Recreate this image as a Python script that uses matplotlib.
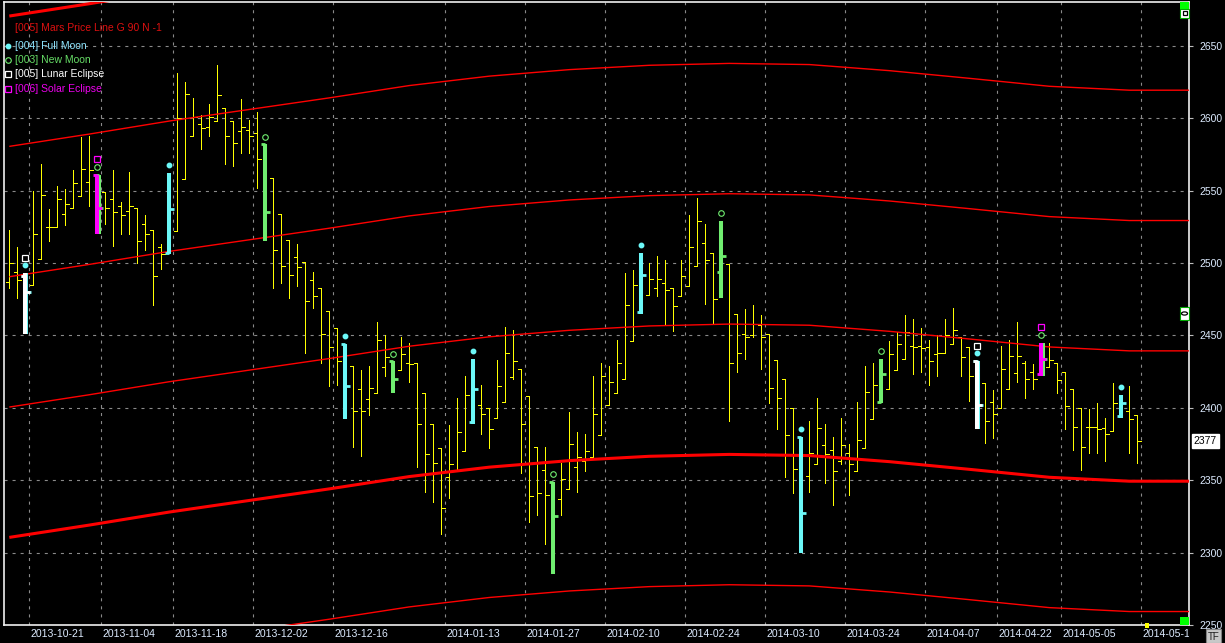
import matplotlib
matplotlib.use("Agg")
import matplotlib.pyplot as plt
from matplotlib.collections import LineCollection
from matplotlib.patches import Rectangle, Circle
from matplotlib.transforms import Bbox, TransformedBbox, blended_transform_factory
import numpy as np

# ---------------- data (daily bars, index = trading day) ----------------
opens = [2487, 2494, 2491, 2485, 2503, 2525, 2525, 2534, 2538, 2546,
         2556, 2561, 2549, 2544, 2539, 2536, 2538, 2527, 2523, 2511,
         2507, 2522, 2558, 2588, 2596, 2594, 2598, 2607, 2598, 2591,
         2592, 2590, 2582, 2559, 2534, 2516, 2504, 2501, 2488, 2483,
         2467, 2455, 2444, 2429, 2413, 2406, 2410, 2428, 2432, 2426,
         2431, 2431, 2410, 2389, 2372, 2352, 2356, 2370, 2390, 2402,
         2400, 2393, 2404, 2421, 2427, 2408, 2373, 2357, 2349, 2337,
         2344, 2359, 2363, 2366, 2381, 2402, 2410, 2420, 2446, 2466,
         2478, 2483, 2486, 2483, 2477, 2484, 2498, 2514, 2507, 2494,
         2499, 2465, 2451, 2450, 2457, 2451, 2433, 2420, 2400, 2380,
         2353, 2361, 2374, 2371, 2363, 2369, 2356, 2372, 2392, 2404,
         2413, 2426, 2434, 2443, 2443, 2442, 2437, 2438, 2444, 2449,
         2442, 2432, 2417, 2404, 2400, 2413, 2424, 2431, 2425, 2423,
         2428, 2431, 2425, 2413, 2400, 2387, 2387, 2386, 2384, 2394,
         2398, 2395]
highs = [2523, 2511, 2493, 2550, 2568, 2537, 2553, 2551, 2564, 2587,
         2588, 2561, 2549, 2564, 2542, 2563, 2538, 2533, 2523, 2513,
         2562, 2631, 2625, 2614, 2602, 2610, 2637, 2607, 2598, 2613,
         2599, 2604, 2582, 2559, 2534, 2516, 2513, 2501, 2494, 2483,
         2467, 2455, 2444, 2429, 2426, 2429, 2459, 2450, 2432, 2449,
         2445, 2431, 2410, 2389, 2372, 2388, 2407, 2422, 2434, 2416,
         2400, 2433, 2456, 2454, 2427, 2408, 2373, 2373, 2349, 2362,
         2397, 2383, 2382, 2422, 2431, 2429, 2447, 2493, 2495, 2507,
         2500, 2505, 2502, 2483, 2502, 2533, 2545, 2527, 2507, 2529,
         2499, 2465, 2468, 2471, 2464, 2451, 2433, 2420, 2400, 2380,
         2391, 2407, 2389, 2380, 2393, 2375, 2404, 2429, 2431, 2434,
         2446, 2452, 2464, 2461, 2455, 2447, 2450, 2461, 2469, 2449,
         2442, 2432, 2417, 2412, 2443, 2447, 2459, 2432, 2430, 2445,
         2445, 2431, 2425, 2413, 2400, 2399, 2403, 2393, 2417, 2409,
         2415, 2395]
lows = [2483, 2476, 2451, 2485, 2503, 2515, 2525, 2526, 2538, 2546,
        2539, 2520, 2527, 2512, 2520, 2520, 2500, 2509, 2471, 2496,
        2506, 2522, 2558, 2588, 2579, 2588, 2598, 2568, 2567, 2576,
        2576, 2552, 2515, 2483, 2486, 2476, 2484, 2438, 2469, 2431,
        2415, 2416, 2392, 2373, 2367, 2395, 2410, 2422, 2410, 2426,
        2418, 2359, 2342, 2335, 2313, 2338, 2356, 2370, 2389, 2382,
        2372, 2393, 2404, 2420, 2355, 2321, 2326, 2306, 2285, 2326,
        2344, 2342, 2356, 2366, 2381, 2402, 2410, 2420, 2446, 2465,
        2478, 2477, 2457, 2453, 2477, 2484, 2498, 2472, 2458, 2476,
        2391, 2425, 2434, 2449, 2427, 2403, 2385, 2352, 2341, 2300,
        2342, 2361, 2348, 2333, 2361, 2340, 2356, 2372, 2392, 2403,
        2413, 2426, 2434, 2423, 2425, 2416, 2422, 2438, 2444, 2422,
        2405, 2385, 2376, 2379, 2400, 2413, 2418, 2407, 2413, 2422,
        2428, 2410, 2385, 2371, 2357, 2369, 2369, 2363, 2384, 2393,
        2369, 2362]
closes = [2500, 2488, 2480, 2520, 2547, 2525, 2544, 2541, 2555, 2565,
          2564, 2538, 2538, 2535, 2533, 2539, 2515, 2520, 2491, 2506,
          2537, 2600, 2617, 2601, 2593, 2601, 2616, 2588, 2583, 2594,
          2588, 2572, 2535, 2509, 2498, 2492, 2497, 2474, 2477, 2451,
          2442, 2432, 2415, 2398, 2398, 2414, 2447, 2435, 2420, 2437,
          2430, 2389, 2368, 2362, 2331, 2361, 2383, 2409, 2413, 2396,
          2385, 2415, 2438, 2432, 2389, 2339, 2341, 2340, 2325, 2351,
          2375, 2366, 2370, 2396, 2422, 2418, 2431, 2471, 2485, 2492,
          2489, 2489, 2481, 2470, 2491, 2511, 2529, 2502, 2475, 2505,
          2431, 2438, 2449, 2458, 2449, 2414, 2407, 2381, 2358, 2327,
          2369, 2386, 2368, 2356, 2374, 2361, 2378, 2411, 2416, 2423,
          2437, 2444, 2452, 2442, 2441, 2432, 2438, 2450, 2454, 2435,
          2422, 2402, 2391, 2396, 2427, 2436, 2436, 2420, 2420, 2434,
          2433, 2419, 2401, 2387, 2373, 2387, 2385, 2382, 2403, 2403,
          2392, 2377]

full_moon = [2, 20, 42, 58, 79, 99, 121, 139]
new_moon = [11, 32, 48, 68, 89, 109, 129]
lunar_eclipse = [2, 121]
solar_eclipse = [11, 129]

tick_labels = ["2013-10-21", "2013-11-04", "2013-11-18", "2013-12-02",
               "2013-12-16", "2014-01-13", "2014-01-27", "2014-02-10",
               "2014-02-24", "2014-03-10", "2014-03-24", "2014-04-07",
               "2014-04-22", "2014-05-05", "2014-05-19"]
tick_index = [3, 12, 21, 31, 41, 55, 65, 75, 85, 95, 105, 115, 124, 132, 142]
y_ticks = [2250, 2300, 2350, 2400, 2450, 2500, 2550, 2600, 2650]
last_price = 2377

# Mars price line (central curve) sampled by trading-day index, plus harmonics
mars_day = [0, 10, 20, 30, 40, 50, 60, 70, 80, 90, 100, 110, 120, 130, 140, 147.5]
mars_base = [2400.5, 2409, 2418, 2426, 2434, 2442.5, 2449, 2453.5, 2456.5,
             2457.8, 2457, 2452.8, 2447.5, 2442, 2439.3, 2439.3]
mars_offsets = [-180, -90, 0, 90, 180, 270]
mars_thick = [-90, 270]

legend_items = [
    ("[005] Mars Price Line G 90 N -1", "#DD1010", None),
    ("[004] Full Moon", "#8FE6FF", "fm"),
    ("[003] New Moon", "#66DD66", "nm"),
    ("[005] Lunar Eclipse", "#FFFFFF", "le"),
    ("[006] Solar Eclipse", "#EE00EE", "se"),
]

# ---------------- styling ----------------
W, H = 1225, 643
BG = "#000000"
YEL = "#FFFF00"
CYAN = "#6CF8F8"
GREEN = "#70EE70"
WHITE = "#FFFFFF"
MAG = "#FF00FF"
RED = "#FF0000"
TXT = "#DDEBFF"
FONT = "Liberation Sans"
plt.rcParams["font.family"] = [FONT, "DejaVu Sans"]
plt.rcParams["lines.scale_dashes"] = False

fig = plt.figure(figsize=(W / 100, H / 100), dpi=100, facecolor=BG)
ax = fig.add_axes([4.3 / W, (H - 625) / H, (1189 - 4.3) / W, 623 / H])
ax.set_facecolor(BG)
ax.set_xlim(-0.625, 147.46)
ax.set_ylim(2250, 2680.2)

n = len(opens)
idx = np.arange(n)

# grid
for yv in y_ticks[1:]:
    ax.axhline(yv, color="#8A8A8A", lw=0.8, ls=(0, (2.2, 3.6)), zorder=1)
for ti in tick_index:
    ax.axvline(ti - 0.5, color="#8A8A8A", lw=0.8, ls=(0, (2.2, 3.6)), zorder=1)

# yellow OHLC bars
special = set(full_moon) | set(new_moon)
segs = []
for i in idx:
    if i in special:
        continue
    segs.append([(i, lows[i]), (i, highs[i])])
    segs.append([(i - 0.42, opens[i]), (i, opens[i])])
    segs.append([(i, closes[i]), (i + 0.42, closes[i])])
ax.add_collection(LineCollection(segs, colors=YEL, linewidths=0.72, zorder=3,
                                 antialiaseds=False))

# Mars price lines
mx = np.array(mars_day)
mb = np.array(mars_base)
for off in mars_offsets:
    lw = 2.2 if off in mars_thick else 1.0
    ax.plot(mx, mb + off, color=RED, lw=lw, zorder=4, solid_capstyle="butt")


def thick_bar(i, color, dx=0.0, lw=2.9):
    x = i + dx
    ax.plot([x, x], [lows[i], highs[i]], color=color, lw=lw, zorder=5,
            solid_capstyle="butt")
    ax.plot([x - 0.6, x], [opens[i], opens[i]], color=color, lw=2.0, zorder=5,
            solid_capstyle="butt")
    ax.plot([x, x + 0.6], [closes[i], closes[i]], color=color, lw=2.0, zorder=5,
            solid_capstyle="butt")


for i in full_moon:
    if i in lunar_eclipse:
        thick_bar(i, CYAN, dx=0.12)
        thick_bar(i, WHITE)
    else:
        thick_bar(i, CYAN)
for i in new_moon:
    if i in solar_eclipse:
        thick_bar(i, GREEN, dx=0.15)
        thick_bar(i, MAG)
    else:
        thick_bar(i, GREEN)

# markers above the event bars
ax.plot(full_moon, [highs[i] + 5.5 for i in full_moon], "o", ms=3.2,
        color=CYAN, mec=CYAN, zorder=6)
ax.plot(new_moon, [highs[i] + 5.3 for i in new_moon], "o", ms=4.0,
        mfc="none", mec=GREEN, mew=0.8, zorder=6)
ax.plot(lunar_eclipse, [highs[i] + 10.5 for i in lunar_eclipse], "s", ms=4.0,
        mfc="none", mec=WHITE, mew=0.9, zorder=6)
ax.plot(solar_eclipse, [highs[i] + 10.5 for i in solar_eclipse], "s", ms=4.0,
        mfc="none", mec=MAG, mew=0.9, zorder=6)

# spines
for s in ax.spines.values():
    s.set_color("#F0F0F0")
    s.set_linewidth(1.2)

# y axis on right
ax.yaxis.tick_right()
ax.set_yticks(y_ticks)
ax.set_yticklabels([str(v) for v in y_ticks])
ax.tick_params(axis="y", colors="#BBBBBB", labelcolor=TXT, length=3,
               width=0.8, pad=4.5, labelsize=7.5)
ax.set_xticks([])

# x labels (clipped to plot width)
trans = blended_transform_factory(ax.transData, ax.transAxes)
clipbox = TransformedBbox(Bbox([[0, -1], [1, 2]]), ax.transAxes)
for ti, lab in zip(tick_index, tick_labels):
    t = ax.text(ti - 0.5 + 0.1, -0.0145, lab, transform=trans, ha="left",
                va="center", color=TXT, fontsize=7.6, clip_on=True)
    t.set_clip_box(clipbox)

# last price box
ax.annotate(str(last_price), xy=(1.0, last_price),
            xycoords=("axes fraction", "data"), xytext=(3.5, 0),
            textcoords="offset points", ha="left", va="center", fontsize=7.5,
            color="#000000",
            bbox=dict(boxstyle="square,pad=0.2", fc="#FFFFFF", ec="#FFFFFF"),
            annotation_clip=False, zorder=10)

# legend
leg_y = [28.3, 45.7, 60.3, 74.3, 88.7]
for (lab, col, mk), yp in zip(legend_items, leg_y):
    ya = (625 - yp) / 623
    ax.text((15 - 4.3) / 1184.7, ya, lab, transform=ax.transAxes, color=col,
            fontsize=7.5, ha="left", va="center", zorder=8)
    xm = (7.5 - 4.3) / 1184.7
    if mk == "fm":
        ax.plot([xm], [ya], "o", ms=3.2, color=CYAN, transform=ax.transAxes,
                clip_on=False, zorder=8)
    elif mk == "nm":
        ax.plot([xm], [ya], "o", ms=4.0, mfc="none", mec=GREEN, mew=0.8,
                transform=ax.transAxes, clip_on=False, zorder=8)
    elif mk == "le":
        ax.plot([xm], [ya], "s", ms=4.0, mfc="none", mec=WHITE, mew=0.9,
                transform=ax.transAxes, clip_on=False, zorder=8)
    elif mk == "se":
        ax.plot([xm], [ya], "s", ms=4.0, mfc="none", mec=MAG, mew=0.9,
                transform=ax.transAxes, clip_on=False, zorder=8)


# UI decorations (figure pixel coords)
def rect(x0, y0, x1, y1, **kw):
    fig.add_artist(Rectangle((x0 / W, 1 - y1 / H), (x1 - x0) / W, (y1 - y0) / H,
                             transform=fig.transFigure, **kw))


rect(1180, 2, 1189, 9, fc="#00FF00", ec="none")
rect(1180, 9, 1189, 17.5, fc="#FFFFFF", ec="#00AA00", lw=0.8)
rect(1182.5, 11.2, 1186.5, 15.2, fc="none", ec="#000000", lw=0.9)
rect(1180, 307, 1189, 320, fc="#FFFFFF", ec="#00AA00", lw=0.8)
fig.add_artist(Circle((1184.5 / W, 1 - 313.5 / H), 3.0 / W,
                      transform=fig.transFigure, fc="none", ec="#000000", lw=0.9))
rect(1180, 617, 1189, 625, fc="#00FF00", ec="none")
rect(1144.5, 623, 1148.5, 628, fc="#FFFF00", ec="none")
rect(1206, 629, 1221, 643, fc="#C8C8C8", ec="#808080", lw=0.8)
fig.text(1213.5 / W, 1 - 636.5 / H, "TF", ha="center", va="center",
         fontsize=7, color="#202020")

fig.savefig("out.png", dpi=100, facecolor=BG)
